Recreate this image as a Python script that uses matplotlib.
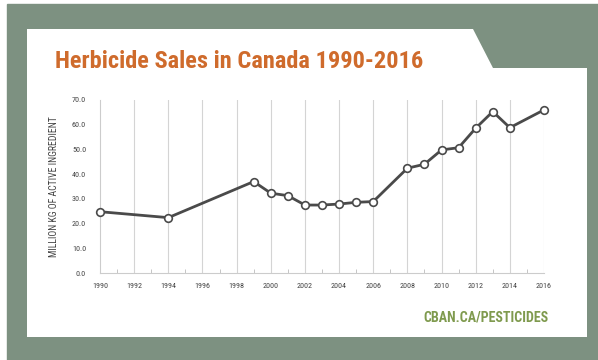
import matplotlib
matplotlib.use("Agg")
import matplotlib.pyplot as plt
from matplotlib import font_manager
from matplotlib.patches import Polygon, Rectangle
from matplotlib.ticker import MultipleLocator

# herbicide sales, million kg of active ingredient
years = [1990, 1994, 1999, 2000, 2001, 2002, 2003, 2004, 2005, 2006,
         2008, 2009, 2010, 2011, 2012, 2013, 2014, 2016]
sales = [24.8, 22.4, 37.0, 32.3, 31.3, 27.5, 27.5, 27.9, 28.6, 28.9,
         42.4, 44.0, 49.8, 50.7, 58.6, 65.3, 58.8, 66.0]
xticks = list(range(1990, 2017, 2))
yticks = [0, 10, 20, 30, 40, 50, 60, 70]

W, H = 598, 360
panel = "#7d9181"

# look for a narrow face, otherwise just plain DejaVu and shrink it
names = {f.name for f in font_manager.fontManager.ttflist}
cond = {(f.name, f.stretch) for f in font_manager.fontManager.ttflist}
stretch = "normal"
narrow = ["DejaVu Sans"]
for cand in ["Liberation Sans Narrow", "Roboto Condensed", "Open Sans Condensed",
             "Noto Sans Condensed", "DejaVu Sans Condensed"]:
    if cand in names:
        narrow = [cand, "DejaVu Sans"]
        break
else:
    for nm, st in cond:
        if st in ("condensed", "semi-condensed", 75, 87) and nm in ("DejaVu Sans", "Noto Sans", "Open Sans", "Roboto"):
            narrow = [nm, "DejaVu Sans"]
            stretch = "condensed"
            break

fig = plt.figure(figsize=(W / 100, H / 100), dpi=100)
fig.patch.set_facecolor("white")

def px(x, y):
    # pixel coords (top-left origin) -> figure fraction
    return (x / W, 1 - y / H)

# green-grey background panel and white card with cut corner
fig.patches.append(Rectangle(px(7, 360), (W - 7) / W, 356 / H,
                             transform=fig.transFigure, color=panel, zorder=0))
card = [px(27, 29), px(473, 29), px(493, 68), px(587, 68), px(587, 337), px(27, 337)]
fig.patches.append(Polygon(card, closed=True, transform=fig.transFigure,
                           facecolor="white", edgecolor="none", zorder=1))

title = fig.text(55 / W, 1 - 62 / H, "Herbicide Sales in Canada 1990-2016",
                 color="#cf6b2c", fontsize=20, fontweight="heavy", family=narrow,
                 stretch=stretch, va="center", ha="left")
src = fig.text(548 / W, 1 - 317 / H, "CBAN.CA/PESTICIDES", color="#7f9a4e",
               fontsize=10, fontweight="bold", family=narrow, stretch=stretch,
               va="center", ha="right")

ax = fig.add_axes([100 / W, 87 / H, 444 / W, 173 / H])
ax.set_facecolor("none")
ax.set_zorder(2)

for x in xticks[1:]:
    ax.axvline(x, color="#d4d4d4", lw=0.8, zorder=1)

ax.plot(years, sales, color="#4a4a4a", lw=2, marker="o", markersize=5.5,
        markerfacecolor="white", markeredgecolor="#4a4a4a", markeredgewidth=1.2,
        clip_on=False, zorder=3)

ax.set_xlim(1990, 2016)
ax.set_ylim(0, 70)
ax.set_xticks(xticks)
ax.set_xticklabels([str(x) for x in xticks])
ax.xaxis.set_minor_locator(MultipleLocator(1))
ax.set_yticks(yticks)
ax.set_yticklabels(["%.1f" % v for v in yticks])

for s in ["top", "right"]:
    ax.spines[s].set_visible(False)
for s in ["left", "bottom"]:
    ax.spines[s].set_color("#cccccc")
    ax.spines[s].set_linewidth(0.8)

ax.tick_params(axis="x", which="major", length=0, pad=7, labelsize=5.8,
               labelcolor="#444444")
ax.tick_params(axis="x", which="minor", direction="in", length=3, color="#bbbbbb")
ax.tick_params(axis="y", length=0, pad=10, labelsize=5.8, labelcolor="#444444")
for lab in ax.get_xticklabels() + ax.get_yticklabels():
    lab.set_family(narrow)
    lab.set_stretch(stretch)

ax.set_ylabel("MILLION KG OF ACTIVE INGREDIENT", fontsize=7, color="#444444",
              family=narrow, stretch=stretch, labelpad=9)

# fit the two headline texts to the width they take in the reference
fig.canvas.draw()
r = fig.canvas.get_renderer()
for t, target in [(title, 368), (src, 125)]:
    w = t.get_window_extent(r).width
    t.set_fontsize(t.get_fontsize() * target / w)

fig.savefig("out.png", dpi=100)
